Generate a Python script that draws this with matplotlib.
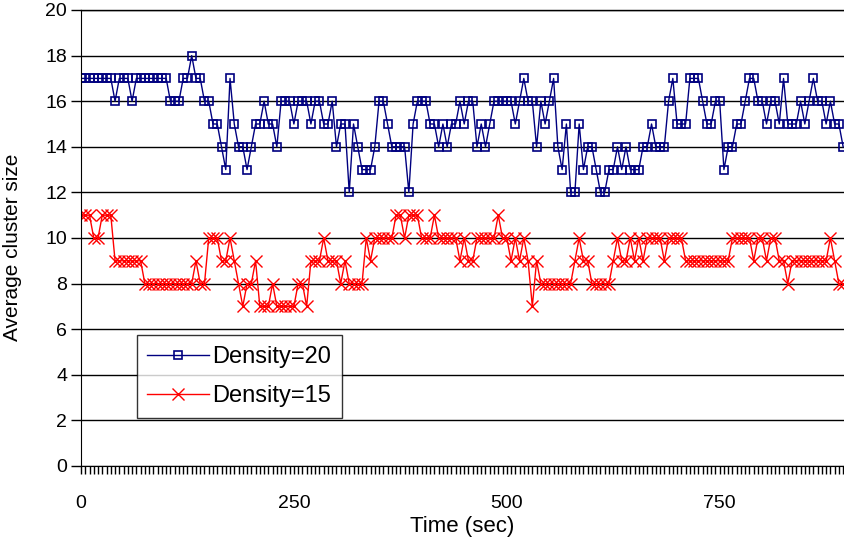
import matplotlib
matplotlib.use("Agg")
import matplotlib.pyplot as plt
from matplotlib.ticker import MultipleLocator

plt.rcParams["font.family"] = ["Liberation Sans", "DejaVu Sans"]

# ========================================================================
#                           Data (sampled every 5 sec)
# ========================================================================
step = 5

density_20 = [
    17, 17, 17, 17, 17, 17, 17, 17, 16, 17,
    17, 17, 16, 17, 17, 17, 17, 17, 17, 17,
    17, 16, 16, 16, 17, 17, 18, 17, 17, 16,
    16, 15, 15, 14, 13, 17, 15, 14, 14, 13,
    14, 15, 15, 16, 15, 15, 14, 16, 16, 16,
    15, 16, 16, 16, 15, 16, 16, 15, 15, 16,
    14, 15, 15, 12, 15, 14, 13, 13, 13, 14,
    16, 16, 15, 14, 14, 14, 14, 12, 15, 16,
    16, 16, 15, 15, 14, 15, 14, 15, 15, 16,
    15, 16, 16, 14, 15, 14, 15, 16, 16, 16,
    16, 16, 15, 16, 17, 16, 16, 14, 16, 15,
    16, 17, 14, 13, 15, 12, 12, 15, 13, 14,
    14, 13, 12, 12, 13, 13, 14, 13, 14, 13,
    13, 13, 14, 14, 15, 14, 14, 14, 16, 17,
    15, 15, 15, 17, 17, 17, 16, 15, 15, 16,
    16, 13, 14, 14, 15, 15, 16, 17, 17, 16,
    16, 15, 16, 16, 15, 17, 15, 15, 15, 16,
    15, 16, 17, 16, 16, 15, 16, 15, 15, 14,
]

density_15 = [
    11, 11, 11, 10, 10, 11, 11, 11, 9, 9,
    9, 9, 9, 9, 9, 8, 8, 8, 8, 8,
    8, 8, 8, 8, 8, 8, 8, 9, 8, 8,
    10, 10, 10, 9, 9, 10, 9, 8, 7, 8,
    8, 9, 7, 7, 7, 8, 7, 7, 7, 7,
    7, 8, 8, 7, 9, 9, 9, 10, 9, 9,
    9, 8, 9, 8, 8, 8, 8, 10, 9, 10,
    10, 10, 10, 10, 11, 11, 10, 11, 11, 11,
    10, 10, 10, 11, 10, 10, 10, 10, 10, 9,
    10, 9, 9, 10, 10, 10, 10, 10, 11, 10,
    10, 9, 10, 9, 10, 9, 7, 9, 8, 8,
    8, 8, 8, 8, 8, 8, 9, 10, 9, 9,
    8, 8, 8, 8, 8, 9, 10, 9, 9, 10,
    9, 10, 9, 10, 10, 10, 10, 9, 10, 10,
    10, 10, 9, 9, 9, 9, 9, 9, 9, 9,
    9, 9, 9, 10, 10, 10, 10, 10, 9, 10,
    10, 9, 10, 10, 9, 9, 8, 9, 9, 9,
    9, 9, 9, 9, 9, 9, 10, 9, 8, 8,
]

time = [i * step for i in range(len(density_20))]

# ========================================================================
#                           Plot
# ========================================================================
fig = plt.figure(figsize=(8.44, 5.43), dpi=100)
ax = fig.add_axes([81 / 844, 77 / 543, 763 / 844, 456 / 543])

ax.plot(time, density_20, color="#000080", linewidth=1, marker="s",
        markersize=6, markerfacecolor="none", markeredgewidth=1.2,
        label="Density=20")
ax.plot(time, density_15, color="#ff0000", linewidth=1, marker="x",
        markersize=9, markeredgewidth=1, label="Density=15")

ax.set_xlim(0, 896)
ax.set_ylim(0, 20)
ax.set_yticks(range(0, 21, 2))
ax.set_xticks([0, 250, 500, 750])
ax.xaxis.set_minor_locator(MultipleLocator(step))
ax.grid(axis="y", color="black", linewidth=1)
ax.set_axisbelow(True)

ax.spines["right"].set_visible(False)
ax.spines["top"].set_linewidth(1)
ax.tick_params(axis="y", direction="out", length=7, width=1, labelsize=14, pad=3)
ax.tick_params(axis="x", which="major", direction="out", length=6, width=1,
               labelsize=14, pad=15)
ax.tick_params(axis="x", which="minor", direction="out", length=6, width=1)

ax.set_xlabel("Time (sec)", fontsize=16, labelpad=3)
ax.set_ylabel("Average cluster size", fontsize=15, labelpad=12)
ax.yaxis.set_label_coords(-0.077, 0.48)

leg = ax.legend(loc="lower left", bbox_to_anchor=(0.073, 0.105), fontsize=17,
                frameon=True, fancybox=False, edgecolor="black",
                handlelength=2.6, borderpad=0.45, labelspacing=0.75,
                handletextpad=0.15, borderaxespad=0)
leg.get_frame().set_linewidth(1)

fig.savefig("out.png", dpi=100)
